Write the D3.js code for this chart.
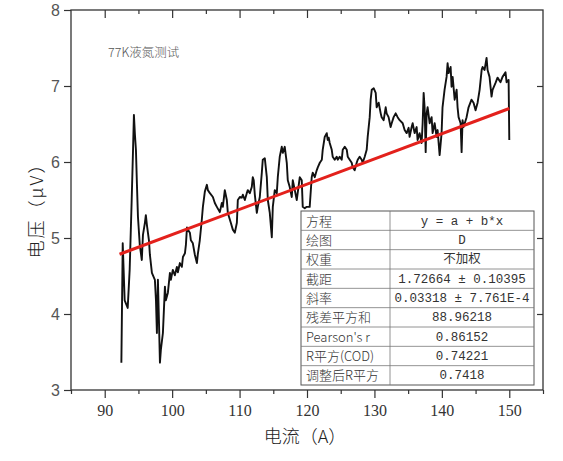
<!DOCTYPE html>
<html>
<head>
<meta charset="utf-8">
<script src="https://cdn.jsdelivr.net/npm/d3@7"></script>
<style>
  body { margin: 0; background: #fff; }
  svg { display: block; }
</style>
</head>
<body>
<svg id="js-svg" width="563" height="461"></svg>
<script>
// measured curve, current (A)
const current = [
  92.47, 92.67, 92.96, 93.41, 93.7, 94.0, 94.2, 94.33, 94.48, 94.63, 94.78, 94.93, 95.2, 95.5, 95.67,
  95.96, 96.1, 96.26, 96.56, 96.7, 97.0, 97.44, 97.6, 97.74, 97.89, 98.04, 98.19, 98.33, 98.63, 98.93,
  99.07, 99.37, 99.67, 99.81, 100.1, 100.4, 100.7, 100.85, 101.15, 101.44, 101.6, 101.9, 102.04, 102.2,
  102.33, 102.63, 102.78, 103.07, 103.37, 103.67, 103.8, 104.1, 104.4, 104.56, 104.85, 105.15, 105.3,
  105.6, 106.04, 106.33, 106.63, 107.07, 107.37, 107.52, 107.81, 108.11, 108.26, 108.7, 109.0, 109.3,
  109.6, 109.74, 110.04, 110.33, 110.48, 110.78, 111.07, 111.22, 111.52, 111.81, 111.96, 112.1, 112.26,
  112.56, 112.7, 113.0, 113.3, 113.44, 113.74, 114.04, 114.19, 114.48, 114.78, 114.93, 115.22, 115.52,
  115.67, 115.96, 116.26, 116.41, 116.7, 117.0, 117.15, 117.44, 117.74, 117.89, 118.19, 118.48, 118.93,
  119.22, 119.37, 119.67, 119.96, 120.4, 120.7, 120.85, 121.15, 121.44, 121.6, 121.9, 122.2, 122.33,
  122.63, 122.93, 123.07, 123.22, 123.37, 123.67, 123.81, 124.11, 124.4, 124.56, 124.85, 125.15, 125.3,
  125.6, 125.9, 126.04, 126.33, 126.63, 126.78, 127.07, 127.37, 127.52, 127.81, 128.11, 128.26, 128.56,
  128.85, 129.0, 129.3, 129.44, 129.6, 129.9, 130.19, 130.33, 130.63, 130.93, 131.07, 131.37, 131.67,
  131.81, 132.1, 132.4, 132.56, 132.85, 133.15, 133.44, 133.74, 134.19, 134.48, 134.78, 135.07, 135.22,
  135.52, 135.67, 135.96, 136.26, 136.4, 136.7, 137.0, 137.15, 137.3, 137.44, 137.6, 137.74, 137.89,
  138.19, 138.48, 138.63, 138.93, 139.22, 139.37, 139.67, 139.96, 140.1, 140.4, 140.7, 140.85, 141.0,
  141.3, 141.44, 141.6, 141.9, 142.19, 142.33, 142.48, 142.78, 142.93, 143.07, 143.22, 143.67, 143.96,
  144.4, 144.7, 145.0, 145.3, 145.6, 145.9, 146.04, 146.33, 146.63, 146.78, 147.07, 147.37, 147.52,
  147.96, 148.26, 148.7, 149.0, 149.44, 149.6, 149.9, 150.0
];
// measured curve, voltage (uV)
const voltage = [
  3.36, 4.93, 4.18, 4.08, 4.58, 5.50, 6.16, 6.62, 6.36, 6.16, 5.70, 5.28, 4.91, 4.71, 5.04,
  5.20, 5.30, 5.17, 4.97, 4.78, 4.54, 4.45, 4.18, 3.75, 4.45, 3.92, 3.36, 3.53, 3.75, 4.36,
  4.18, 4.28, 4.54, 4.45, 4.58, 4.51, 4.62, 4.55, 4.67, 4.62, 4.75, 4.80, 4.91, 5.14,
  5.11, 5.07, 4.97, 4.93, 4.78, 4.67, 4.78, 4.97, 5.24, 5.41, 5.61, 5.70, 5.63,
  5.59, 5.54, 5.46, 5.41, 5.34, 5.46, 5.41, 5.63, 5.50, 5.33, 5.20, 5.11, 5.07,
  5.20, 5.50, 5.54, 5.53, 5.57, 5.50, 5.59, 5.63, 5.59, 5.67, 5.80, 5.76, 5.57,
  5.33, 5.41, 5.54, 5.86, 6.03, 6.05, 5.80, 5.50, 5.33, 5.01, 5.41, 5.63, 5.59,
  5.80, 6.07, 6.20, 6.12, 6.20, 5.99, 5.76, 5.67, 5.54, 5.76, 5.63, 5.50, 5.80,
  5.76, 5.41, 5.39, 5.41, 5.41, 5.80, 5.86, 5.80, 5.89, 5.93, 5.99, 6.03, 6.16,
  6.33, 6.38, 6.29, 6.32, 6.25, 6.16, 6.07, 6.03, 6.07, 6.03, 6.07, 6.03, 6.16,
  6.20, 6.16, 6.07, 6.03, 5.99, 5.93, 5.89, 5.99, 6.03, 6.07, 6.03, 5.99, 6.07,
  6.16, 6.33, 6.59, 6.82, 6.95, 6.97, 6.91, 6.72, 6.78, 6.64, 6.59, 6.55, 6.72,
  6.64, 6.59, 6.46, 6.51, 6.59, 6.64, 6.59, 6.55, 6.51, 6.42, 6.38, 6.45, 6.33,
  6.46, 6.51, 6.38, 6.46, 6.29, 6.38, 6.25, 6.51, 6.91, 6.72, 6.13, 6.64, 6.72,
  6.51, 6.59, 6.38, 6.51, 6.33, 6.42, 6.09, 6.38, 6.72, 6.95, 7.12, 7.30, 7.17,
  7.25, 6.99, 7.12, 6.82, 6.95, 6.72, 6.59, 6.51, 6.13, 6.55, 6.46, 6.59, 6.72,
  6.82, 6.78, 6.68, 6.78, 6.95, 7.21, 7.25, 7.21, 7.37, 7.21, 7.12, 6.86, 6.95,
  7.04, 7.11, 7.05, 7.12, 7.18, 7.05, 7.08, 6.29
];

// linear fit y = a + b*x
const fitA = 1.72664;
const fitB = 0.03318;
const fitRange = [92.2, 150];

const xMajor = [90, 100, 110, 120, 130, 140, 150];
const xMinor = [85, 95, 105, 115, 125, 135, 145, 155];
const yMajor = [3, 4, 5, 6, 7, 8];

const tableLabels = ["方程", "绘图", "权重", "截距", "斜率", "残差平方和", "Pearson's r", "R平方(COD)", "调整后R平方"];
const tableValues = ["y = a + b*x", "D", "不加权", "1.72664 ± 0.10395", "0.03318 ± 7.761E-4", "88.96218", "0.86152", "0.74221", "0.7418"];

const note = "77K液氮测试";
const xTitle = "电流（A）";
const yTitle = "电压（μV）";

const svg = d3.select("#js-svg");
const plotL = 71, plotR = 543, plotT = 10, plotB = 390;
const axisColor = "#333";
const cjk = "'Noto Sans CJK SC', sans-serif";

const xscale = d3.scaleLinear().domain([85, 155]).range([plotL, plotR]);
const yscale = d3.scaleLinear().domain([3, 8]).range([plotB, plotT]);

const styleAx = (g) => {
  g.select(".domain").remove();
  g.selectAll(".tick line").attr("stroke", axisColor).attr("stroke-width", 1.2);
};

// bottom axis
svg.append("g")
  .attr("transform", `translate(0,${plotB})`)
  .call(d3.axisBottom(xscale).tickValues(xMinor).tickSize(4).tickFormat(""))
  .call(styleAx);
svg.append("g")
  .attr("transform", `translate(0,${plotB})`)
  .call(d3.axisBottom(xscale).tickValues(xMajor).tickSize(8).tickPadding(7).tickFormat(d3.format("d")))
  .call(styleAx)
  .selectAll("text")
  .attr("font-family", "'Liberation Serif', serif")
  .attr("font-size", 16)
  .attr("fill", "#333");

// top axis, ticks inward
svg.append("g")
  .attr("transform", `translate(0,${plotT})`)
  .call(d3.axisTop(xscale).tickValues(xMinor.slice(1, -1)).tickSize(-4).tickFormat(""))
  .call(styleAx);
svg.append("g")
  .attr("transform", `translate(0,${plotT})`)
  .call(d3.axisTop(xscale).tickValues(xMajor).tickSize(-8).tickFormat(""))
  .call(styleAx);

// left axis
svg.append("g")
  .attr("transform", `translate(${plotL},0)`)
  .call(d3.axisLeft(yscale).tickValues(yMajor).tickSize(7).tickPadding(4).tickFormat(d3.format("d")))
  .call(styleAx)
  .selectAll("text")
  .attr("font-family", "'Liberation Sans', Arial, sans-serif")
  .attr("font-size", 16)
  .attr("fill", "#555");

// right axis, ticks inward
svg.append("g")
  .attr("transform", `translate(${plotR},0)`)
  .call(d3.axisRight(yscale).tickValues(yMajor.slice(1, -1)).tickSize(-6).tickFormat(""))
  .call(styleAx);

// frame
svg.append("rect")
  .attr("x", plotL).attr("y", plotT)
  .attr("width", plotR - plotL).attr("height", plotB - plotT)
  .attr("fill", "none")
  .attr("stroke", axisColor)
  .attr("stroke-width", 1.3);

// data curve
const pts = current.map((c, i) => [c, voltage[i]]);
svg.append("path")
  .datum(pts)
  .attr("fill", "none")
  .attr("stroke", "#111")
  .attr("stroke-width", 1.9)
  .attr("stroke-linejoin", "round")
  .attr("d", d3.line().x((d) => xscale(d[0])).y((d) => yscale(d[1])));

// fit line
svg.append("path")
  .datum(fitRange.map((x) => [x, fitA + fitB * x]))
  .attr("fill", "none")
  .attr("stroke", "#e3211c")
  .attr("stroke-width", 3)
  .attr("d", d3.line().x((d) => xscale(d[0])).y((d) => yscale(d[1])));

// note
svg.append("text")
  .attr("x", 108).attr("y", 57)
  .attr("font-family", cjk)
  .attr("font-weight", 300)
  .attr("font-size", 12.5)
  .attr("fill", "#555")
  .text(note);

// axis titles
svg.append("text")
  .attr("x", 305).attr("y", 443)
  .attr("text-anchor", "middle")
  .attr("font-family", cjk)
  .attr("font-weight", 300)
  .attr("font-size", 18)
  .attr("fill", "#222")
  .text(xTitle);
svg.append("text")
  .attr("transform", "translate(43,206) rotate(-90)")
  .attr("text-anchor", "middle")
  .attr("font-family", cjk)
  .attr("font-weight", 300)
  .attr("font-size", 18)
  .attr("letter-spacing", 2)
  .attr("fill", "#222")
  .text(yTitle);

// stats table
const tx0 = 301, tx1 = 390, tx2 = 534, ty0 = 211, ty1 = 385;
const rowScale = d3.scaleBand().domain(d3.range(tableLabels.length)).range([ty0, ty1]);
const table = svg.append("g");
table.append("rect")
  .attr("x", tx0).attr("y", ty0)
  .attr("width", tx2 - tx0).attr("height", ty1 - ty0)
  .attr("fill", "#fff")
  .attr("stroke", "#555")
  .attr("stroke-width", 1);
table.selectAll(".row-line")
  .data(d3.range(1, tableLabels.length))
  .join("line")
  .attr("x1", tx0).attr("x2", tx2)
  .attr("y1", (d) => rowScale(d)).attr("y2", (d) => rowScale(d))
  .attr("stroke", "#777").attr("stroke-width", 0.8);
table.append("line")
  .attr("x1", tx1).attr("x2", tx1).attr("y1", ty0).attr("y2", ty1)
  .attr("stroke", "#777").attr("stroke-width", 0.8);
table.selectAll(".lab")
  .data(tableLabels)
  .join("text")
  .attr("x", tx0 + 5)
  .attr("y", (d, i) => rowScale(i) + rowScale.bandwidth() / 2 + 5)
  .attr("font-family", cjk)
  .attr("font-weight", 300)
  .attr("font-size", 13)
  .attr("fill", "#333")
  .text((d) => d);
table.selectAll(".val")
  .data(tableValues)
  .join("text")
  .attr("x", (tx1 + tx2) / 2)
  .attr("y", (d, i) => rowScale(i) + rowScale.bandwidth() / 2 + 4)
  .attr("text-anchor", "middle")
  .attr("font-family", "'Liberation Mono', 'Noto Sans CJK SC', monospace")
  .attr("font-size", 12.5)
  .attr("fill", "#333")
  .text((d) => d);
</script>
</body>
</html>
